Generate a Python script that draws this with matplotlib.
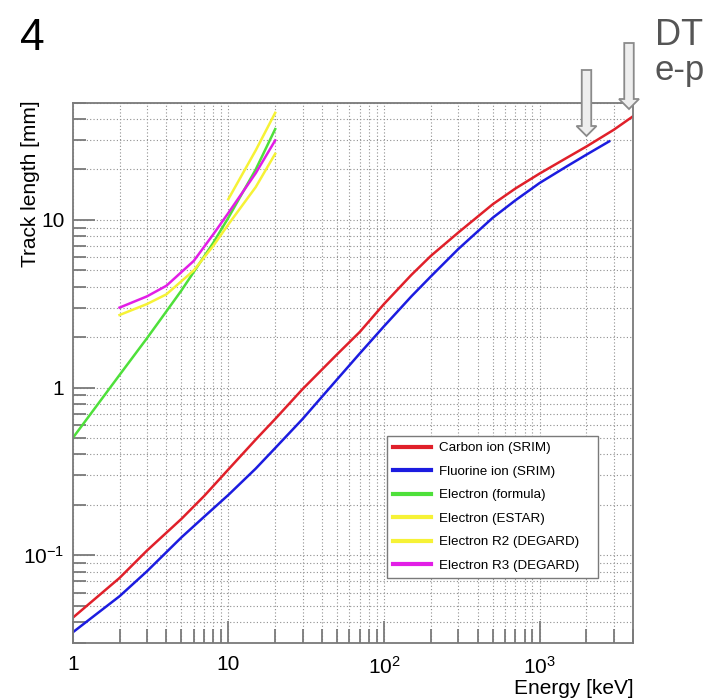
import matplotlib
matplotlib.use("Agg")
import matplotlib.pyplot as plt
from matplotlib.patches import FancyArrow
from matplotlib.ticker import FixedLocator, NullFormatter

plt.rcParams['font.family'] = ['Liberation Sans', 'DejaVu Sans']
plt.rcParams['mathtext.fontset'] = 'custom'
plt.rcParams['mathtext.rm'] = 'Liberation Sans'
plt.rcParams['mathtext.it'] = 'Liberation Sans:italic'

# energy grid [keV] and track lengths [mm]
e_ion = [1, 1.5, 2, 3, 5, 7, 10, 15, 20, 30, 50, 70, 100, 150, 200, 300, 500, 700,
         1000, 1500, 2000, 3000, 4000]
carbon = [0.0424, 0.0584, 0.0733, 0.1067, 0.165, 0.226, 0.325, 0.49, 0.65, 0.98, 1.58,
          2.15, 3.15, 4.7, 6.1, 8.4, 12.4, 15.4, 18.9, 23.5, 27.4, 34.5, 41.6]
e_fl = [1, 1.5, 2, 3, 5, 7, 10, 15, 20, 30, 50, 70, 100, 150, 200, 300, 500, 700,
        1000, 1500, 2000, 2800]
fluorine = [0.0347, 0.0464, 0.057, 0.0803, 0.128, 0.170, 0.229, 0.329, 0.436, 0.65, 1.12,
            1.6, 2.32, 3.5, 4.6, 6.7, 10.3, 13.1, 16.6, 20.9, 24.5, 29.4]
e_form = [1, 2, 3, 4, 5, 6, 8, 10, 15, 20]
el_formula = [0.5, 1.19, 1.97, 2.85, 3.8, 4.9, 7.3, 10.3, 20.0, 34.8]
e_estar = [10, 15, 20]
el_estar = [13.3, 26.0, 43.5]
e_deg = [2, 3, 4, 6, 8, 10, 15, 20]
el_r2 = [2.71, 3.15, 3.6, 5.0, 7.0, 9.4, 15.7, 24.8]
el_r3 = [3.0, 3.5, 4.05, 5.7, 8.2, 11.0, 19.0, 29.8]

series = [
    (e_ion, carbon, '#e0202a', 'Carbon ion (SRIM)'),
    (e_fl, fluorine, '#1c1ce0', 'Fluorine ion (SRIM)'),
    (e_form, el_formula, '#4ee03a', 'Electron (formula)'),
    (e_estar, el_estar, '#f6f236', 'Electron (ESTAR)'),
    (e_deg, el_r2, '#f6f236', 'Electron R2 (DEGARD)'),
    (e_deg, el_r3, '#e21ee6', 'Electron R3 (DEGARD)'),
]

W, H = 719, 700
fig = plt.figure(figsize=(W / 100, H / 100), dpi=100)
ax = fig.add_axes([72.7 / W, 1 - 643 / H, (633.3 - 72.7) / W, (643 - 102.7) / H])

for x, y, c, lab in series:
    ax.plot(x, y, color=c, lw=1.8, label=lab)

ax.set_xscale('log')
ax.set_yscale('log')
ax.set_xlim(1, 4000)
ax.set_ylim(0.03, 50)

gray = '#7a7a7a'
for s in ax.spines.values():
    s.set_color(gray)
    s.set_linewidth(1.3)

xmaj = [1, 10, 100, 1000]
xmin = [m * d for d in [1, 10, 100, 1000] for m in range(2, 10) if m * d <= 4000]
ymaj = [0.1, 1, 10]
ymin = [m * d for d in [0.01, 0.1, 1, 10] for m in range(2, 10) if 0.03 <= m * d <= 50]
ax.xaxis.set_major_locator(FixedLocator(xmaj))
ax.xaxis.set_minor_locator(FixedLocator(xmin))
ax.yaxis.set_major_locator(FixedLocator(ymaj))
ax.yaxis.set_minor_locator(FixedLocator(ymin))
ax.set_xticklabels(['1', '10', '$10^{2}$', '$10^{3}$'])
ax.set_yticklabels(['$10^{-1}$', '1', '10'])
ax.xaxis.set_minor_formatter(NullFormatter())
ax.yaxis.set_minor_formatter(NullFormatter())
ax.tick_params(which='both', direction='in', color=gray, width=1.3, labelsize=15,
               top=False, right=False)
ax.tick_params(axis='x', which='major', length=16, pad=9)
ax.tick_params(axis='x', which='minor', length=10)
ax.tick_params(axis='y', which='major', length=16, pad=6)
ax.tick_params(axis='y', which='minor', length=9)

ax.grid(True, which='both', color='#8f8f8f', lw=0.8, ls=(0, (1, 2)))

ax.set_xlabel('Energy [keV]', fontsize=15, loc='right')
ax.xaxis.set_label_coords(1.0, -0.066)
ax.set_ylabel('Track length [mm]', fontsize=15, loc='top')
ax.yaxis.set_label_coords(-0.058, 1.004)

leg = ax.legend(loc='upper left',
                bbox_to_anchor=(387.3 / W, 1 - 436 / H - 0.01, (598.3 - 387.3) / W, 0.01),
                bbox_transform=fig.transFigure, mode='expand', borderaxespad=0, fontsize=9.6,
                handlelength=2.8, handletextpad=0.6, labelspacing=0.84,
                borderpad=0.45, fancybox=False, framealpha=1)
leg.get_frame().set_edgecolor(gray)
leg.get_frame().set_linewidth(1.0)
for h in leg.get_lines():
    h.set_linewidth(3)

# slide annotations around the plot
fig.text(20 / W, 1 - 50 / H, '4', fontsize=32, va='baseline', ha='left')
fig.text(655 / W, 1 - 45 / H, 'DT', fontsize=26, color='#555555', va='baseline')
fig.text(655 / W, 1 - 80 / H, 'e-p', fontsize=25, color='#555555', va='baseline')
for xc, ytop, ytip in [(586.5, 70, 136), (629, 43, 109)]:
    fig.patches.append(FancyArrow(xc / W, 1 - ytop / H, 0, -(ytip - ytop) / H,
                                  width=9.5 / W, head_width=20 / W, head_length=10 / H,
                                  length_includes_head=True, transform=fig.transFigure,
                                  facecolor='#eeeeee', edgecolor='#8a8a8a', lw=1.3))

fig.savefig('out.png', dpi=100)
